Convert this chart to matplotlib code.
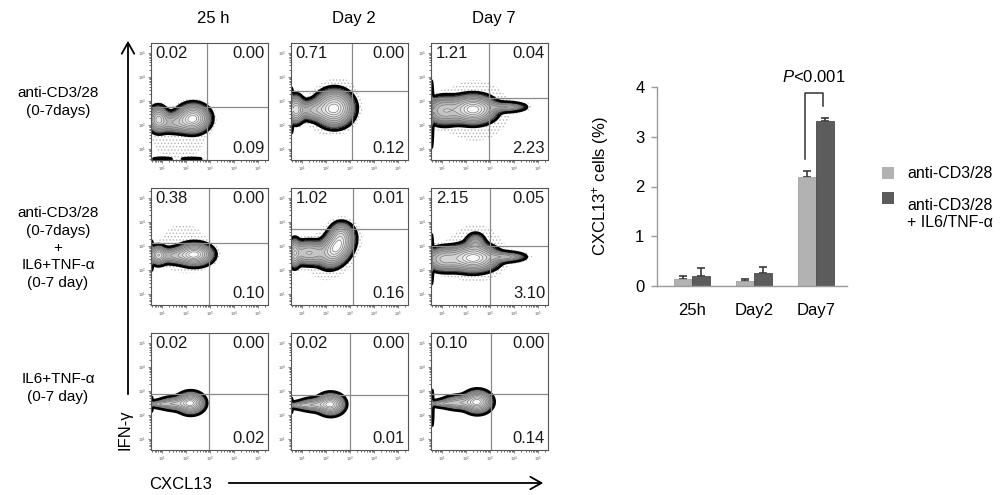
import numpy as np
import matplotlib
matplotlib.use("Agg")
import matplotlib.pyplot as plt
from matplotlib.patches import Rectangle, FancyArrowPatch

plt.rcParams['font.family'] = ['Liberation Sans', 'DejaVu Sans']
plt.rcParams['mathtext.fontset'] = 'custom'
plt.rcParams['mathtext.rm'] = 'Liberation Sans'
plt.rcParams['mathtext.it'] = 'Liberation Sans:italic'
plt.rcParams['hatch.color'] = '#b4b4b4'
plt.rcParams['hatch.linewidth'] = 0.6

# ---------------- data ----------------
COL_TITLES = ["25 h", "Day 2", "Day 7"]
ROW_LABELS = ["anti-CD3/28\n(0-7days)",
              "anti-CD3/28\n(0-7days)\n+\nIL6+TNF-\u03b1\n(0-7 day)",
              "IL6+TNF-\u03b1\n(0-7 day)"]
# quadrant percentages [row][col]
Q_UL = [["0.02", "0.71", "1.21"], ["0.38", "1.02", "2.15"], ["0.02", "0.02", "0.10"]]
Q_UR = [["0.00", "0.00", "0.04"], ["0.00", "0.01", "0.05"], ["0.00", "0.00", "0.00"]]
Q_LR = [["0.09", "0.12", "2.23"], ["0.10", "0.16", "3.10"], ["0.02", "0.01", "0.14"]]
# quadrant gates (log10 units)
GATE_X = [[2.86, 3.09, 2.95], [2.97, 3.11, 3.00], [2.98, 2.99, 3.06]]
GATE_Y = [[2.77, 3.40, 3.11], [3.14, 3.71, 3.02], [2.89, 2.85, 2.89]]
# population components: (cx, cy, sx, sy, weight, rho) in log10 units
POPS = [
    [[(0.85, 2.25, 0.20, 0.26, 0.65, 0), (2.30, 2.28, 0.33, 0.28, 1.0, 0), (1.55, 2.10, 0.45, 0.22, 0.35, 0),
      (1.00, 0.60, 0.32, 0.04, 0.07, 0), (2.25, 0.60, 0.40, 0.04, 0.06, 0)],
     [(0.75, 2.65, 0.17, 0.28, 0.70, 0), (2.35, 2.70, 0.38, 0.36, 1.0, 0), (1.50, 2.62, 0.40, 0.22, 0.35, 0),
      (0.58, 2.60, 0.03, 0.45, 0.30, 0)],
     [(2.30, 2.65, 0.45, 0.28, 1.0, 0), (3.65, 2.75, 0.45, 0.11, 0.25, 0), (1.10, 2.60, 0.40, 0.30, 0.45, 0),
      (0.58, 2.45, 0.03, 0.65, 0.35, 0)]],
    [[(0.85, 2.62, 0.17, 0.19, 0.70, 0), (2.35, 2.65, 0.36, 0.22, 1.0, 0), (1.50, 2.60, 0.40, 0.17, 0.35, 0),
      (0.58, 2.60, 0.03, 0.30, 0.30, 0)],
     [(2.45, 2.95, 0.33, 0.38, 1.0, 0.35), (1.30, 2.72, 0.45, 0.25, 0.50, 0), (0.70, 2.70, 0.12, 0.30, 0.45, 0),
      (2.60, 3.50, 0.22, 0.25, 0.30, 0)],
     [(2.30, 2.50, 0.50, 0.27, 1.0, 0), (3.60, 2.55, 0.45, 0.11, 0.30, 0), (2.40, 3.15, 0.22, 0.22, 0.20, 0),
      (1.10, 2.45, 0.40, 0.25, 0.50, 0), (0.58, 2.45, 0.03, 0.50, 0.30, 0)]],
    [[(2.20, 2.50, 0.27, 0.21, 1.0, 0), (1.55, 2.48, 0.35, 0.14, 0.45, 0), (0.95, 2.46, 0.30, 0.08, 0.30, 0),
      (0.58, 2.45, 0.025, 0.22, 0.10, 0)],
     [(2.20, 2.45, 0.27, 0.21, 1.0, 0), (1.55, 2.43, 0.35, 0.14, 0.45, 0), (0.95, 2.41, 0.30, 0.08, 0.30, 0),
      (0.58, 2.40, 0.025, 0.22, 0.10, 0)],
     [(2.48, 2.55, 0.28, 0.22, 1.0, 0), (1.75, 2.52, 0.38, 0.15, 0.45, 0), (1.05, 2.48, 0.30, 0.08, 0.30, 0),
      (0.60, 2.30, 0.03, 0.45, 0.15, 0)]],
]
# sparse event clouds (for speckled region): (cx, cy, sx, sy, weight, rho)
CLOUDS = [
    [[(1.7, 1.35, 0.65, 0.45, 0.05, 0)], [(2.3, 2.8, 0.55, 0.65, 0.05, 0.3)], [(2.4, 2.6, 0.8, 0.75, 0.05, 0)]],
    [[(1.9, 2.9, 0.6, 0.6, 0.05, 0)], [(2.3, 2.8, 0.6, 0.7, 0.05, 0.3)], [(2.4, 2.7, 0.7, 0.7, 0.05, 0)]],
    [[], [], []],
]

BAR_CATS = ["25h", "Day2", "Day7"]
SERIES = ["anti-CD3/28", "anti-CD3/28\n+ IL6/TNF-\u03b1"]
MEAN_CD3 = [0.15, 0.10, 2.20]
ERR_CD3 = [0.05, 0.04, 0.12]
MEAN_CYT = [0.21, 0.26, 3.31]
ERR_CYT = [0.16, 0.13, 0.07]
P_TEXT = "$\\it{P}$<0.001"

# ---------------- layout ----------------
W, H = 1003, 495
fig = plt.figure(figsize=(W / 100, H / 100), dpi=100)


def px_axes(l, t, w, h):
    return fig.add_axes([l / W, 1 - (t + h) / H, w / W, h / H])


def fx(x):
    return x / W


def fy(y):
    return 1 - y / H


COL_LEFT = [151, 291, 431]
ROW_TOP = [43, 188, 333]
PANEL = 117
LMIN, LMAX = 0.55, 5.41

gx = np.linspace(LMIN, LMAX, 400)
GX, GY = np.meshgrid(gx, gx)


def density(comps):
    Z = np.zeros_like(GX)
    for cx, cy, sx, sy, w, rho in comps:
        dx = (GX - cx) / sx
        dy = (GY - cy) / sy
        q = (dx ** 2 - 2 * rho * dx * dy + dy ** 2) / (1 - rho ** 2)
        Z += w * np.exp(-0.5 * q)
    return Z


FRAC = np.array([0.035, 0.065, 0.11, 0.17, 0.25, 0.35, 0.47, 0.6, 0.75, 0.88])
shade = np.linspace(0, 1, len(FRAC)) ** 0.45
FILL_COLORS = [plt.cm.gray(0.08 + 0.9 * s) for s in shade]

minor = [np.log10(k) + d for d in range(0, 6) for k in range(2, 10)]
minor = [m for m in minor if LMIN < m < LMAX]

for r in range(3):
    for c in range(3):
        ax = px_axes(COL_LEFT[c], ROW_TOP[r], PANEL, PANEL)
        Z = density(POPS[r][c])
        zmax = Z.max()
        lev = list(FRAC * zmax) + [zmax * 1.01]
        if CLOUDS[r][c]:
            Zc = Z + density(CLOUDS[r][c])
            ax.contourf(GX, GY, Zc, levels=[0.012 * zmax, 10 * zmax], colors='none',
                        hatches=['.....'])
        ax.contourf(GX, GY, Z, levels=lev, colors=FILL_COLORS)
        ax.contour(GX, GY, Z, levels=lev[2:-1], colors='#6e6e6e', linewidths=0.45)
        ax.contour(GX, GY, Z, levels=[lev[1]], colors='#222222', linewidths=0.6)
        ax.contour(GX, GY, Z, levels=[lev[0]], colors='black', linewidths=1.8)
        ax.axvline(GATE_X[r][c], color='#8a8a8a', lw=0.9)
        ax.axhline(GATE_Y[r][c], color='#8a8a8a', lw=0.9)
        ax.set_xlim(LMIN, LMAX)
        ax.set_ylim(LMIN, LMAX)
        ticks = [1, 2, 3, 4, 5]
        tl = ["$10^{%d}$" % t for t in ticks]
        ax.set_xticks(ticks)
        ax.set_xticklabels(tl)
        ax.set_yticks(ticks)
        ax.set_yticklabels(tl)
        ax.set_xticks(minor, minor=True)
        ax.set_yticks(minor, minor=True)
        ax.tick_params(length=2.2, width=0.5, pad=1.5, labelsize=3, colors='#555555')
        ax.tick_params(which='minor', length=1.2, width=0.4)
        for s in ax.spines.values():
            s.set_color('#555555')
            s.set_linewidth(0.8)
        ax.text(0.04, 0.975, Q_UL[r][c], transform=ax.transAxes, ha='left', va='top', fontsize=12, color='#1a1a1a')
        ax.text(0.975, 0.975, Q_UR[r][c], transform=ax.transAxes, ha='right', va='top', fontsize=12, color='#1a1a1a')
        ax.text(0.975, 0.035, Q_LR[r][c], transform=ax.transAxes, ha='right', va='bottom', fontsize=12, color='#1a1a1a')

# column titles
for c, t in enumerate(COL_TITLES):
    fig.text(fx(COL_LEFT[c] + PANEL / 2 + 4), fy(23), t, ha='center', va='baseline', fontsize=12)

# row labels
ROW_Y = [102, 248, 388]
for r, t in enumerate(ROW_LABELS):
    fig.text(fx(58), fy(ROW_Y[r]), t, ha='center', va='center', fontsize=11,
             multialignment='center', linespacing=1.3)

# axis arrows
fig.add_artist(FancyArrowPatch((fx(128), fy(397)), (fx(128), fy(38)), transform=fig.transFigure,
                               arrowstyle='->,head_length=0.8,head_width=0.45', mutation_scale=10,
                               lw=1.3, color='black'))
fig.add_artist(FancyArrowPatch((fx(226), fy(483)), (fx(546), fy(483)), transform=fig.transFigure,
                               arrowstyle='->,head_length=0.8,head_width=0.45', mutation_scale=10,
                               lw=1.3, color='black'))
fig.text(fx(125), fy(430), "IFN-\u03b3", rotation=90, ha='center', va='center', fontsize=12)
fig.text(fx(149), fy(489), "CXCL13", ha='left', va='baseline', fontsize=12)

# ---------------- bar chart ----------------
bax = px_axes(657, 87, 190, 199)
x = np.arange(len(BAR_CATS))
off, bw = 0.145, 0.285
C_LIGHT, C_DARK = '#b2b2b2', '#5c5c5c'
bax.bar(x - off, MEAN_CD3, bw, color=C_LIGHT, edgecolor='#a0a0a0', lw=0.6, zorder=2)
bax.bar(x + off, MEAN_CYT, bw, color=C_DARK, edgecolor='#4a4a4a', lw=0.6, zorder=2)
bax.errorbar(x - off, MEAN_CD3, yerr=[np.zeros(3), ERR_CD3], fmt='none', ecolor='#3a3a3a',
             elinewidth=1.2, capsize=3, capthick=1.2, zorder=1)
bax.errorbar(x + off, MEAN_CYT, yerr=[np.zeros(3), ERR_CYT], fmt='none', ecolor='#3a3a3a',
             elinewidth=1.2, capsize=3, capthick=1.2, zorder=1)
# significance bracket
xl, xr = x[2] - off - 0.04, x[2] + off - 0.04
bax.plot([xl, xl, xr, xr], [2.55, 3.88, 3.88, 3.61], color='#333333', lw=1.1, clip_on=False)
bax.text(x[2] - 0.03, 4.21, P_TEXT, ha='center', va='center', fontsize=12)
bax.set_xlim(-0.565, 2.5)
bax.set_ylim(0, 4)
bax.set_yticks([0, 1, 2, 3, 4])
bax.set_xticks(x)
bax.set_xticklabels(BAR_CATS)
bax.tick_params(axis='x', length=0, pad=12, labelsize=12)
bax.tick_params(axis='y', length=4, width=1, color='#9a9a9a', pad=5, labelsize=12)
for s in ['top', 'right']:
    bax.spines[s].set_visible(False)
for s in ['left', 'bottom']:
    bax.spines[s].set_color('#9a9a9a')
    bax.spines[s].set_linewidth(1.0)
bax.set_ylabel("CXCL13$^{+}$ cells (%)", fontsize=12)
bax.yaxis.set_label_coords((611 - 657) / 190, 0.5)

# legend
LEG_Y = [173, 198]
for i, (lab, col) in enumerate(zip(SERIES, [C_LIGHT, C_DARK])):
    fig.add_artist(Rectangle((fx(882), fy(LEG_Y[i] + 6)), 12 / W, 12 / H, transform=fig.transFigure,
                             facecolor=col, edgecolor='none'))
    fig.text(fx(907), fy(LEG_Y[i]), lab, ha='left', va='top' if '\n' in lab else 'center',
             fontsize=11.5, linespacing=1.2)

fig.savefig("out.png", dpi=100)
